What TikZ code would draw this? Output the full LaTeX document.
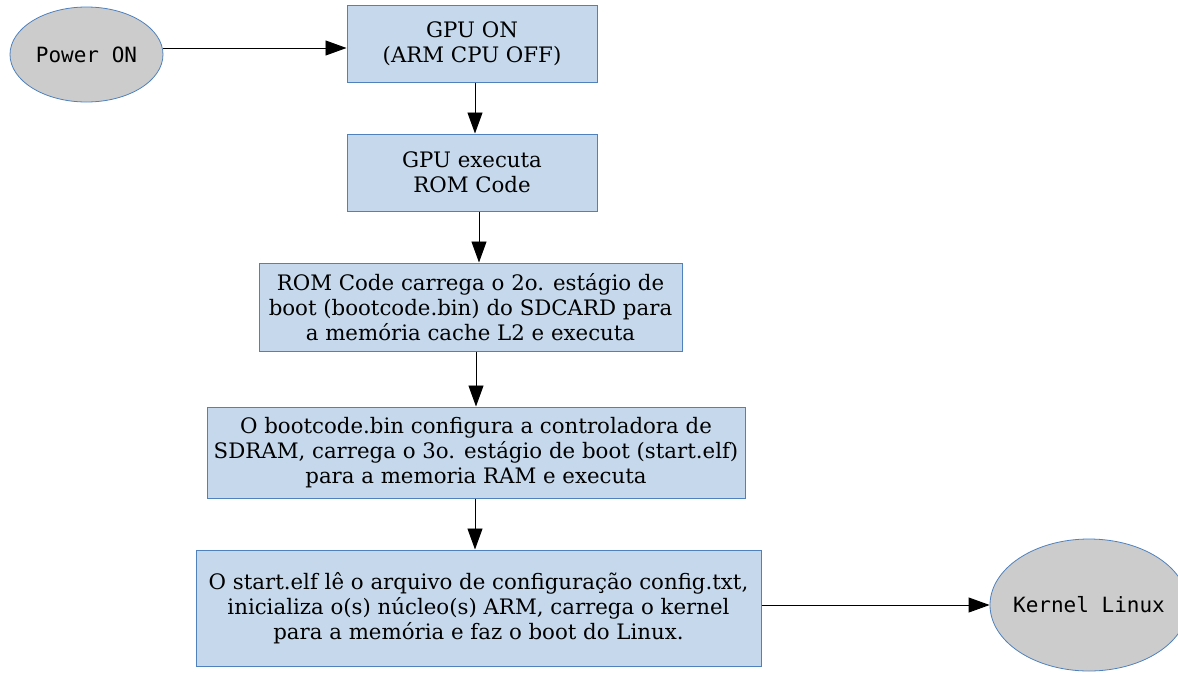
\documentclass[tikz,border=0pt]{standalone}
\usepackage{fontspec}
\setmainfont{DejaVu Serif}
\setmonofont{DejaVu Sans Mono}
\usetikzlibrary{shapes.geometric,arrows.meta}
\definecolor{boxfill}{HTML}{C6D9EC}
\definecolor{boxline}{HTML}{4F81BD}
\definecolor{ovalfill}{HTML}{CCCCCC}
\begin{document}
\begin{tikzpicture}[x=1pt,y=-1pt,
  stepbox/.style={draw=boxline, fill=boxfill, line width=1pt, inner sep=0pt, align=center,
    font=\fontsize{21.3}{25.2}\selectfont},
  oval/.style={ellipse, draw=boxline, fill=ovalfill, line width=0.8pt, inner sep=0pt,
    font=\fontsize{21}{25}\selectfont\ttfamily},
  arr/.style={-{Triangle[length=21pt,width=15pt]}, line width=0.9pt, draw=black}]
\useasboundingbox (0,0) rectangle (1178,672);
\clip (0,0) rectangle (1178,672);
\node[oval, minimum width=153pt, minimum height=95pt] (pwr) at (86.5,54.5) {\makebox[0pt]{Power ON}};
\node[stepbox, minimum width=250pt, minimum height=77pt] (b1) at (472,43.5) {GPU ON\\(ARM CPU OFF)};
\node[stepbox, minimum width=250pt, minimum height=77pt] (b2) at (472,172.5) {GPU executa\\ROM Code};
\node[stepbox, minimum width=423pt, minimum height=88pt] (b3) at (470.5,307) {ROM Code carrega o 2o. estágio de\\boot (bootcode.bin) do SDCARD para\\a memória cache L2 e executa};
\node[stepbox, minimum width=538pt, minimum height=91pt] (b4) at (476,452.5) {O bootcode.bin configura a controladora de\\SDRAM, carrega o 3o. estágio de boot (start.elf)\\para a memoria RAM e executa};
\node[stepbox, minimum width=565pt, minimum height=116pt] (b5) at (478.5,608) {O start.elf lê o arquivo de configuração config.txt,\\inicializa o(s) núcleo(s) ARM, carrega o kernel\\para a memória e faz o boot do Linux.};
\node[oval, minimum width=198pt, minimum height=132pt] (krn) at (1089,605) {\makebox[0pt]{Kernel Linux}};
\draw[arr] ([yshift=6.5pt]pwr.east) -- ([yshift=-4.5pt]b1.west);
\draw[arr] ([xshift=3pt]b1.south) -- ([xshift=3pt]b2.north);
\draw[arr] ([xshift=7pt]b2.south) -- ([xshift=7pt]b2.south |- b3.north);
\draw[arr] ([xshift=5.5pt]b3.south) -- (b4.north);
\draw[arr] ([xshift=-1pt]b4.south) -- ([xshift=-3.5pt]b5.north);
\draw[arr] ([yshift=3pt]b5.east) -- (krn.west);
\end{tikzpicture}
\end{document}
